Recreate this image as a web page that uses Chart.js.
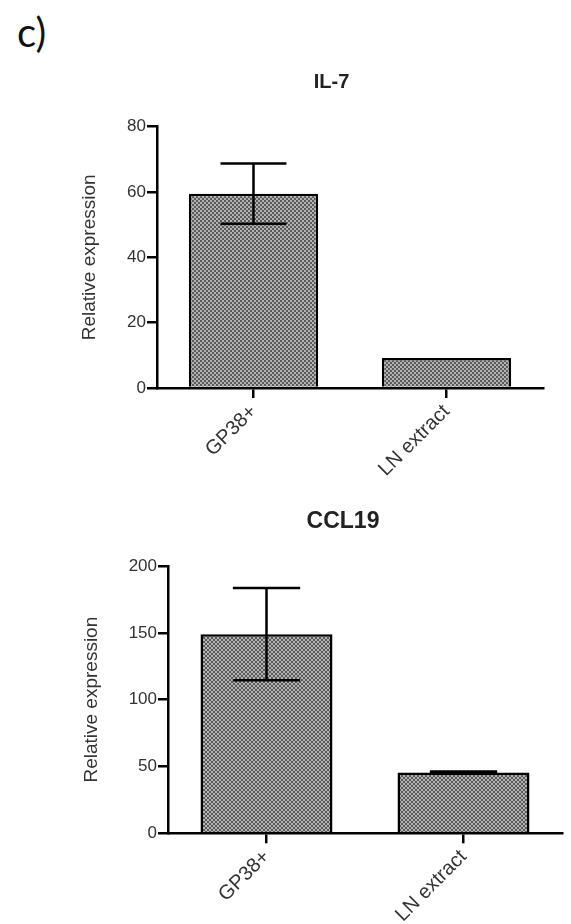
<!DOCTYPE html>
<html>
<head>
<meta charset="utf-8">
<script src="https://cdn.jsdelivr.net/npm/chart.js@4.4.1/dist/chart.umd.min.js"></script>
<style>
  body { margin: 0; width: 571px; height: 924px; overflow: hidden; background: #fff; position: relative; }
  #panel-label { position: absolute; left: 17px; top: 12px; font: 40px Lato, sans-serif; line-height: 40px; color: #111; }
  canvas { position: absolute; }
  #il7-chart { left: 70px; top: 60px; }
  #ccl19-chart { left: 75px; top: 495px; }
</style>
</head>
<body>
<div id="panel-label">c)</div>
<canvas id="il7-chart" width="523" height="430"></canvas>
<canvas id="ccl19-chart" width="536" height="429"></canvas>
<script>
const categories = ["GP38+", "LN extract"];

const il7Values = [59.5, 9.2];
const il7Errors = [9.2, 0];
const il7Ticks = [0, 20, 40, 60, 80];

const ccl19Values = [149, 45.5];
const ccl19Errors = [34.5, 0.8];
const ccl19Ticks = [0, 50, 100, 150, 200];

const FONT = "'Liberation Sans', Arial, sans-serif";

// grey stipple like the original bar fill
function makeStipple() {
  const c = document.createElement("canvas");
  c.width = 4;
  c.height = 4;
  const g = c.getContext("2d");
  g.fillStyle = "#5a5a5a";
  g.fillRect(0, 0, 4, 4);
  g.fillStyle = "#b2b2b2";
  g.fillRect(0, 0, 2, 2);
  g.fillRect(2, 2, 2, 2);
  return g.createPattern(c, "repeat");
}

const errorBars = {
  id: "errorBars",
  afterDatasetsDraw(chart, args, opts) {
    const ctx = chart.ctx;
    const y = chart.scales.y;
    const meta = chart.getDatasetMeta(0);
    const values = chart.data.datasets[0].data;
    ctx.save();
    ctx.strokeStyle = "#000";
    ctx.lineWidth = 2.5;
    meta.data.forEach((bar, i) => {
      const err = opts.errors[i];
      if (!err) return;
      const hi = y.getPixelForValue(values[i] + err);
      const lo = y.getPixelForValue(values[i] - err);
      const half = (bar.width * opts.capRatio) / 2;
      ctx.beginPath();
      ctx.moveTo(bar.x, hi);
      ctx.lineTo(bar.x, lo);
      ctx.moveTo(bar.x - half, hi);
      ctx.lineTo(bar.x + half, hi);
      ctx.moveTo(bar.x - half, lo);
      ctx.lineTo(bar.x + half, lo);
      ctx.stroke();
    });
    ctx.restore();
  },
};

function loadChart(canvasId, title, values, errors, ticks, geo) {
  const ctx = document.getElementById(canvasId).getContext("2d");
  new Chart(ctx, {
    type: "bar",
    data: {
      labels: categories,
      datasets: [
        {
          data: values,
          backgroundColor: makeStipple(),
          borderColor: "#000",
          borderWidth: 2.5,
          categoryPercentage: 1,
          barPercentage: 0.67,
        },
      ],
    },
    options: {
      responsive: false,
      animation: false,
      layout: { padding: 0 },
      plugins: {
        legend: { display: false },
        tooltip: { enabled: false },
        title: {
          display: true,
          text: title,
          color: "#222",
          font: { family: FONT, size: geo.titleSize, weight: "bold" },
          padding: { top: geo.titleTop, bottom: geo.titleBottom },
        },
        errorBars: { errors: errors, capRatio: 0.51 },
      },
      scales: {
        x: {
          z: 1,
          grid: {
            offset: false,
            drawOnChartArea: false,
            tickLength: 10,
            lineWidth: 2.5,
            color: "#000",
          },
          border: { color: "#000", width: 2.5 },
          ticks: {
            autoSkip: false,
            minRotation: 45,
            maxRotation: 45,
            padding: 2,
            color: "#333",
            font: { family: FONT, size: 20 },
          },
          afterFit: (s) => {
            s.height = geo.xHeight;
            s.paddingRight = geo.rightGap;
          },
        },
        y: {
          min: ticks[0],
          max: ticks[ticks.length - 1],
          afterBuildTicks: (s) => {
            s.ticks = ticks.map((v) => ({ value: v }));
          },
          grid: {
            drawOnChartArea: false,
            tickLength: 10,
            lineWidth: 2.5,
            color: "#000",
          },
          border: { color: "#000", width: 2.5 },
          ticks: {
            padding: 1,
            color: "#333",
            font: { family: FONT, size: 17 },
          },
          title: {
            display: true,
            text: "Relative expression",
            color: "#333",
            padding: { top: geo.yTitlePad, bottom: 0 },
            font: { family: FONT, size: 19 },
          },
          afterFit: (s) => {
            s.width = geo.yWidth;
          },
        },
      },
    },
    plugins: [errorBars],
  });
}

loadChart("il7-chart", "IL-7", il7Values, il7Errors, il7Ticks, {
  titleSize: 20,
  titleTop: 10,
  titleBottom: 32.7,
  xHeight: 102,
  rightGap: 50,
  yWidth: 87,
  yTitlePad: 8.6,
});

loadChart("ccl19-chart", "CCL19", ccl19Values, ccl19Errors, ccl19Ticks, {
  titleSize: 23,
  titleTop: 13.2,
  titleBottom: 30.2,
  xHeight: 90.7,
  rightGap: 49,
  yWidth: 93,
  yTitlePad: 5.6,
});
</script>
</body>
</html>
